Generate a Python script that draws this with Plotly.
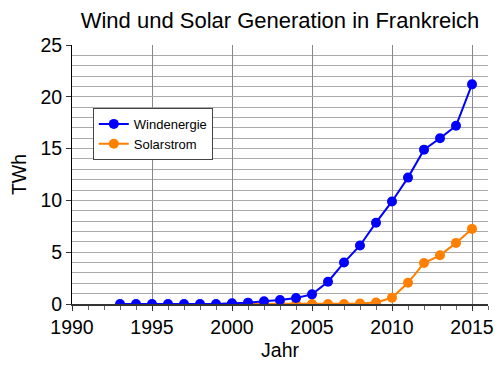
import plotly.graph_objects as go

wind_years = list(range(1993, 2016))
wind_twh = [0.0, 0.0, 0.0, 0.0, 0.0, 0.0, 0.0, 0.08, 0.13, 0.26, 0.38, 0.58, 0.93,
            2.15, 4.0, 5.65, 7.85, 9.9, 12.2, 14.9, 16.0, 17.2, 21.2]
solar_years = list(range(2000, 2016))
solar_twh = [0.0, 0.0, 0.0, 0.0, 0.0, 0.0, 0.0, 0.0, 0.04, 0.15, 0.6, 2.05, 3.95,
             4.7, 5.9, 7.25]

title_text = "Wind und Solar Generation in Frankreich"
x_title = "Jahr"
y_title = "TWh"

font_family = "Liberation Sans, Arial, Helvetica, sans-serif"

fig = go.Figure()
fig.add_trace(go.Scatter(
    x=solar_years, y=solar_twh, name="Solarstrom", mode="lines+markers",
    line=dict(color="#ff8000", width=2), marker=dict(color="#ff8000", size=10),
))
fig.add_trace(go.Scatter(
    x=wind_years, y=wind_twh, name="Windenergie", mode="lines+markers",
    line=dict(color="#0000ff", width=2), marker=dict(color="#0000ff", size=10),
))

fig.update_layout(
    width=500, height=374,
    margin=dict(l=72, r=12, t=45, b=70),
    paper_bgcolor="white", plot_bgcolor="white",
    font=dict(family=font_family, color="black"),
    title=dict(text=title_text, x=0.56, xanchor="center", y=0.947, yanchor="middle",
               font=dict(size=22, family=font_family, color="black")),
    showlegend=True,
    legend=dict(x=0.05, y=0.757, xanchor="left", yanchor="top",
                bgcolor="white", bordercolor="#444", borderwidth=1,
                font=dict(size=13, family=font_family), traceorder="reversed",
                tracegroupgap=0, itemwidth=30),
)

fig.update_xaxes(
    range=[1990, 2016], dtick=5, tick0=1990,
    showgrid=True, gridcolor="#888", gridwidth=1,
    showline=True, linecolor="#333", linewidth=2,
    ticks="outside", ticklen=5, tickcolor="#333",
    tickfont=dict(size=19.5), zeroline=False, automargin=False,
    minor=dict(dtick=1, ticks="outside", ticklen=4, tickcolor="#666", showgrid=False),
    title=dict(text=x_title, font=dict(size=19.5), standoff=6),
)
fig.update_yaxes(
    range=[0, 25], dtick=5,
    showgrid=True, gridcolor="#aaa", gridwidth=1,
    showline=True, linecolor="black", linewidth=1,
    ticks="outside", ticklen=5, tickcolor="#333",
    tickfont=dict(size=19.5), zeroline=False, automargin=False,
    minor=dict(dtick=1, showgrid=True, gridcolor="#aaa", gridwidth=1),
    title=dict(text=y_title, font=dict(size=19.5), standoff=8),
)

fig.write_html("out.html", config={"displayModeBar": False},
               post_script="document.body.style.margin='0';")
